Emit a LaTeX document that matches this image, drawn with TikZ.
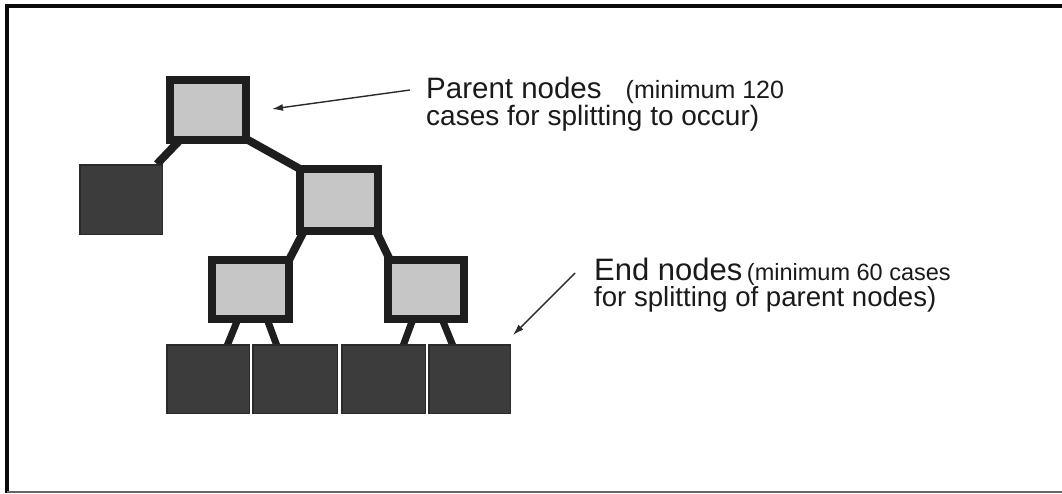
\documentclass[tikz,border=0pt]{standalone}
\usepackage{fontspec}
\setmainfont{Liberation Sans}
\usetikzlibrary{backgrounds,arrows.meta}
\definecolor{boxedge}{HTML}{1E1E1E}
\definecolor{lightbox}{HTML}{C6C6C6}
\definecolor{darkbox}{HTML}{3C3C3C}
\definecolor{leafedge}{HTML}{2A2A2A}
\definecolor{arrowgray}{HTML}{2A2A2A}
\definecolor{textcol}{HTML}{1A1A1A}
\definecolor{framecol}{HTML}{0A0A0A}
\newcommand\parentext[2]{{\fontsize{#1}{#1}\selectfont #2}}
\begin{document}
\begin{tikzpicture}[x=1pt,y=-1pt,
  splitbox/.style={draw=boxedge,fill=lightbox,line width=8pt,inner sep=0pt},
  leafbox/.style={draw=leafedge,fill=darkbox,line width=1.5pt,inner sep=0pt},
  link/.style={draw=boxedge,line width=8pt},
  leg/.style={draw=boxedge,line width=7pt},
  arr/.style={draw=arrowgray,line width=1.4pt,-{Latex[length=11pt,width=7pt]}},
  lbl/.style={text=textcol,inner sep=0pt,anchor=base west,align=left},
]
\useasboundingbox (0,0) rectangle (1062,493);
% frame
\draw[line width=4pt,framecol] (1062,6) -- (7,6) -- (7,493);
\draw[line width=2pt,gray!80!black] (7,492) -- (1062,492);

% tree nodes
\node[splitbox,minimum width=76pt,minimum height=60pt] (top) at (208,110) {};
\node[leafbox,minimum width=82.5pt,minimum height=69.5pt] (l1) at (121,199.5) {};
\node[splitbox,minimum width=78pt,minimum height=62pt] (mid) at (339,200) {};
\node[splitbox,minimum width=77pt,minimum height=59pt] (ll) at (250.5,289.5) {};
\node[splitbox,minimum width=76pt,minimum height=59pt] (lr) at (426,289.5) {};
\node[leafbox,minimum width=82.5pt,minimum height=68.5pt] (e1) at (208,379) {};
\node[leafbox,minimum width=84.5pt,minimum height=68.5pt] (e2) at (295,379) {};
\node[leafbox,minimum width=83.5pt,minimum height=68.5pt] (e3) at (383.5,379) {};
\node[leafbox,minimum width=81.5pt,minimum height=68.5pt] (e4) at (469.5,379) {};

\begin{scope}[on background layer]
  \draw[link] ([xshift=14pt,yshift=4pt]top.south west) -- ([xshift=-6pt]l1.north east);
  \draw[link] ([xshift=-2pt,yshift=4pt]top.south east) -- ([xshift=4pt,yshift=-4pt]mid.north west);
  \draw[link] ([xshift=8pt,yshift=4pt]mid.south west) -- ([xshift=-4pt,yshift=-4pt]ll.north east);
  \draw[link] ([xshift=-6pt,yshift=4pt]mid.south east) -- ([xshift=6pt,yshift=-4pt]lr.north west);
  \draw[leg] ([xshift=-12.5pt,yshift=4pt]ll.south) -- ([xshift=19pt,yshift=-2pt]e1.north);
  \draw[leg] ([xshift=16.5pt,yshift=4pt]ll.south) -- ([xshift=-18pt,yshift=-2pt]e2.north);
  \draw[leg] ([xshift=-13pt,yshift=4pt]lr.south) -- ([xshift=19.5pt,yshift=-2pt]e3.north);
  \draw[leg] ([xshift=16pt,yshift=4pt]lr.south) -- ([xshift=-16.5pt,yshift=-2pt]e4.north);
\end{scope}

% labels (anchor = baseline of the last line)
\node[lbl] (pt) at (426,125) {\lineskiplimit=-60pt\fontsize{29.5}{28}\selectfont
  Parent nodes\hspace{24pt}\parentext{25}{(minimum 120}\\
  \fontsize{28}{28}\selectfont cases for splitting to occur)};
\node[lbl] (nt) at (594,306) {\lineskiplimit=-60pt\fontsize{31}{23}\selectfont
  End nodes\hspace{-2pt}\parentext{23.5}{\ (minimum 60 cases}\\
  \fontsize{27.6}{23}\selectfont for splitting of parent nodes)};

\coordinate (pa) at (272,109);
\coordinate (ea) at (513,335);
\draw[arr] ([xshift=-16pt,yshift=35pt]pt.base west) -- (pa);
\draw[arr] ([xshift=-19pt,yshift=33pt]nt.base west) -- (ea);
\end{tikzpicture}
\end{document}
